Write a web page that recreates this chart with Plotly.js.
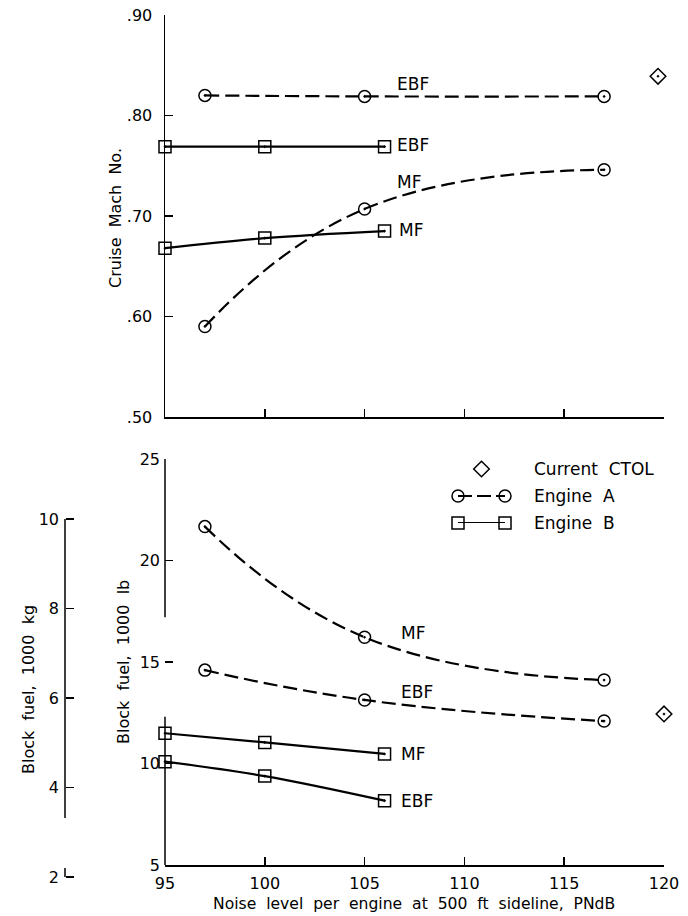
<!DOCTYPE html>
<html><head><meta charset="utf-8">
<script src="https://cdn.plot.ly/plotly-3.0.1.min.js"></script>
<style>body{margin:0;background:#fff}#chart{width:688px;height:916px}</style>
</head><body><div id="chart"></div>
<script>
// ---- data ----
const noiseA = [97, 105, 117];          // Engine A noise levels, PNdB
const noiseB = [95, 100, 106];          // Engine B noise levels, PNdB
const machA_EBF = [0.820, 0.819, 0.819];
const machA_MF  = [0.590, 0.707, 0.746];
const machB_EBF = [0.769, 0.769, 0.769];
const machB_MF  = [0.668, 0.678, 0.685];
const fuelA_MF  = [21.67, 16.22, 14.11];   // 1000 lb
const fuelA_EBF = [14.60, 13.13, 12.09];
const fuelB_MF  = [11.49, 11.04, 10.47];
const fuelB_EBF = [10.09, 9.38, 8.17];
const ctolNoiseMach = [119.7];
const ctolMach = [0.839];
const ctolNoiseFuel = [120];
const ctolFuel = [12.44];

const noiseTicks = [95, 100, 105, 110, 115, 120];
const noiseTickText = ['95', '100', '105', '110', '115', '120'];
const machTicks = [0.5, 0.6, 0.7, 0.8, 0.9];
const machTickText = ['.50', '.60', '.70', '.80', '.90'];
const fuelLbTicks = [5, 10, 15, 20, 25];
const fuelKgTicks = [2, 4, 6, 8, 10];
const legendLabels = ['Current  CTOL', 'Engine  A', 'Engine  B'];
const legendRows = [2, 1, 0];

// ---- layout helpers (pixel -> paper) ----
const W = 688, H = 916;
const PX = p => p / W;
const PY = p => 1 - p / H;
const LB_PER_KG = 2.20462;
const xDom = [PX(165), PX(664)];
const lbPerPx = 20 / (865 - 459);
const kgBottom = (5 - (880 - 865) * lbPerPx) / LB_PER_KG;

const FAM = 'DejaVu Sans, sans-serif';
const font = {family: FAM, size: 16, color: '#000'};
const labelFont = {family: FAM, size: 17, color: '#000'};
const tickFont = {family: FAM, size: 16, color: '#000'};
const axBase = {
  showline: true, linecolor: '#000', linewidth: 1.5, ticks: 'inside', ticklen: 8,
  tickwidth: 1.5, tickcolor: '#000', showgrid: false, zeroline: false,
  tickfont: tickFont, fixedrange: true
};

const dashA = '14px,6px';
const mk = (sym) => ({symbol: sym, size: 12, color: '#000', line: {color: '#000', width: 1.5}});

function series(x, y, xa, ya, dashed, sym) {
  return {x, y, xaxis: xa, yaxis: ya, type: 'scatter', mode: 'lines+markers',
    line: {color: '#000', width: 2.2, dash: dashed ? dashA : 'solid', shape: 'spline', smoothing: dashed ? 1.3 : 1},
    marker: mk(sym), showlegend: false, hoverinfo: 'skip', cliponaxis: false};
}

const traces = [
  series(noiseA, machA_EBF, 'x', 'y', true, 'circle-open-dot'),
  series(noiseA, machA_MF, 'x', 'y', true, 'circle-open-dot'),
  series(noiseB, machB_EBF, 'x', 'y', false, 'square-open-dot'),
  series(noiseB, machB_MF, 'x', 'y', false, 'square-open-dot'),
  {x: ctolNoiseMach, y: ctolMach, xaxis: 'x', yaxis: 'y', type: 'scatter', mode: 'markers',
   marker: mk('diamond-open-dot'), showlegend: false, hoverinfo: 'skip', cliponaxis: false},
  series(noiseA, fuelA_MF, 'x2', 'y2', true, 'circle-open-dot'),
  series(noiseA, fuelA_EBF, 'x2', 'y2', true, 'circle-open-dot'),
  series(noiseB, fuelB_MF, 'x2', 'y2', false, 'square-open-dot'),
  series(noiseB, fuelB_EBF, 'x2', 'y2', false, 'square-open-dot'),
  {x: ctolNoiseFuel, y: ctolFuel, xaxis: 'x2', yaxis: 'y2', type: 'scatter', mode: 'markers',
   marker: mk('diamond-open-dot'), showlegend: false, hoverinfo: 'skip', cliponaxis: false},
  // kg axis carrier (no marks)
  {x: [null], y: [null], xaxis: 'x3', yaxis: 'y3', type: 'scatter', mode: 'markers', showlegend: false, hoverinfo: 'skip'},
  // custom legend samples
  {x: [0.5], y: [legendRows[0]], xaxis: 'x4', yaxis: 'y4', type: 'scatter', mode: 'markers',
   marker: Object.assign(mk('diamond-open'), {size: 12}), showlegend: false, hoverinfo: 'skip', cliponaxis: false},
  {x: [0, 1], y: [legendRows[1], legendRows[1]], xaxis: 'x4', yaxis: 'y4', type: 'scatter', mode: 'lines+markers',
   line: {color: '#000', width: 2.2, dash: '14px,5px'}, marker: mk('circle-open'), showlegend: false, hoverinfo: 'skip', cliponaxis: false},
  {x: [0, 1], y: [legendRows[2], legendRows[2]], xaxis: 'x4', yaxis: 'y4', type: 'scatter', mode: 'lines+markers',
   line: {color: '#000', width: 2.2}, marker: mk('square-open'), showlegend: false, hoverinfo: 'skip', cliponaxis: false}
];

const ann = (text, x, y, xref, yref, extra) => Object.assign({text, x, y, xref, yref, showarrow: false, font: labelFont,
  xanchor: 'center', yanchor: 'middle'}, extra || {});

const annotations = [
  ann('EBF', 107.4, 0.831, 'x', 'y'),
  ann('EBF', 106.5, 0.771, 'x', 'y', {xanchor: 'left'}),
  ann('MF', 107.2, 0.734, 'x', 'y'),
  ann('MF', 106.6, 0.686, 'x', 'y', {xanchor: 'left'}),
  ann('MF', 106.7, 16.45, 'x2', 'y2', {xanchor: 'left'}),
  ann('EBF', 106.7, 13.5, 'x2', 'y2', {xanchor: 'left'}),
  ann('MF', 106.7, 10.47, 'x2', 'y2', {xanchor: 'left'}),
  ann('EBF', 106.7, 8.17, 'x2', 'y2', {xanchor: 'left'}),
  ann('Cruise  Mach  No.', PX(115), PY(218), 'paper', 'paper', {textangle: -90, font}),
  ann('Block  fuel,  1000  lb', PX(123), PY(662), 'paper', 'paper', {textangle: -90, font}),
  ann('Block  fuel,  1000  kg', PX(28), PY(690), 'paper', 'paper', {textangle: -90, font}),
  ann('Noise  level  per  engine  at  500  ft  sideline,  PNdB', PX(414), PY(904), 'paper', 'paper', {font: {family: FAM, size: 15.6, color: '#000'}})
];
legendLabels.forEach((t, i) => annotations.push(
  ann(t, PX(532), legendRows[i], 'paper', 'y4', {xanchor: 'left'})));

const layout = {
  width: W, height: H, paper_bgcolor: '#fff', plot_bgcolor: 'rgba(0,0,0,0)',
  margin: {l: 0, r: 0, t: 0, b: 0}, showlegend: false, font,
  xaxis: Object.assign({}, axBase, {domain: xDom, range: [95, 120], anchor: 'y',
    tickvals: noiseTicks, showticklabels: false}),
  yaxis: Object.assign({}, axBase, {domain: [PY(417), PY(15)], range: [0.5, 0.9], anchor: 'x',
    tickvals: machTicks, ticktext: machTickText, ticklabelstandoff: 8}),
  xaxis2: Object.assign({}, axBase, {domain: xDom, range: [95, 120], anchor: 'y2',
    tickvals: noiseTicks, ticktext: noiseTickText, ticklabelstandoff: 3}),
  yaxis2: Object.assign({}, axBase, {domain: [PY(865), PY(459)], range: [5, 25], anchor: 'x2',
    tickvals: fuelLbTicks, ticklabelstandoff: 4, showline: false}),
  xaxis3: {domain: [0, 0.05], range: [0, 1], anchor: 'y3', visible: false, fixedrange: true},
  yaxis3: Object.assign({}, axBase, {domain: [PY(880), PY(459)], range: [kgBottom, 25 / LB_PER_KG],
    anchor: 'free', position: PX(65), tickvals: fuelKgTicks, ticklabelstandoff: 6, showline: false}),
  xaxis4: {domain: [PX(458), PX(505)], range: [0, 1], anchor: 'y4', visible: false, fixedrange: true},
  yaxis4: {domain: [PY(523), PY(469)], range: [0, 2], anchor: 'x4', visible: false, fixedrange: true},
  annotations,
  shapes: [
    // lb axis line (with the break seen in the original)
    {type: 'line', xref: 'paper', yref: 'y2', x0: PX(165), x1: PX(165), y0: 25, y1: 17.2, line: {color: '#000', width: 1.5}},
    {type: 'line', xref: 'paper', yref: 'y2', x0: PX(165), x1: PX(165), y0: 12.3, y1: 5, line: {color: '#000', width: 1.5}},
    // kg axis line segments
    {type: 'line', xref: 'paper', yref: 'y3', x0: PX(65), x1: PX(65), y0: 10, y1: 3.32, line: {color: '#000', width: 1.5}},
    {type: 'line', xref: 'paper', yref: 'y3', x0: PX(65), x1: PX(65), y0: 2, y1: 2.2, line: {color: '#000', width: 1.5}}
  ]
};

Plotly.newPlot('chart', traces, layout, {staticPlot: true, displayModeBar: false});
</script>
</body></html>
